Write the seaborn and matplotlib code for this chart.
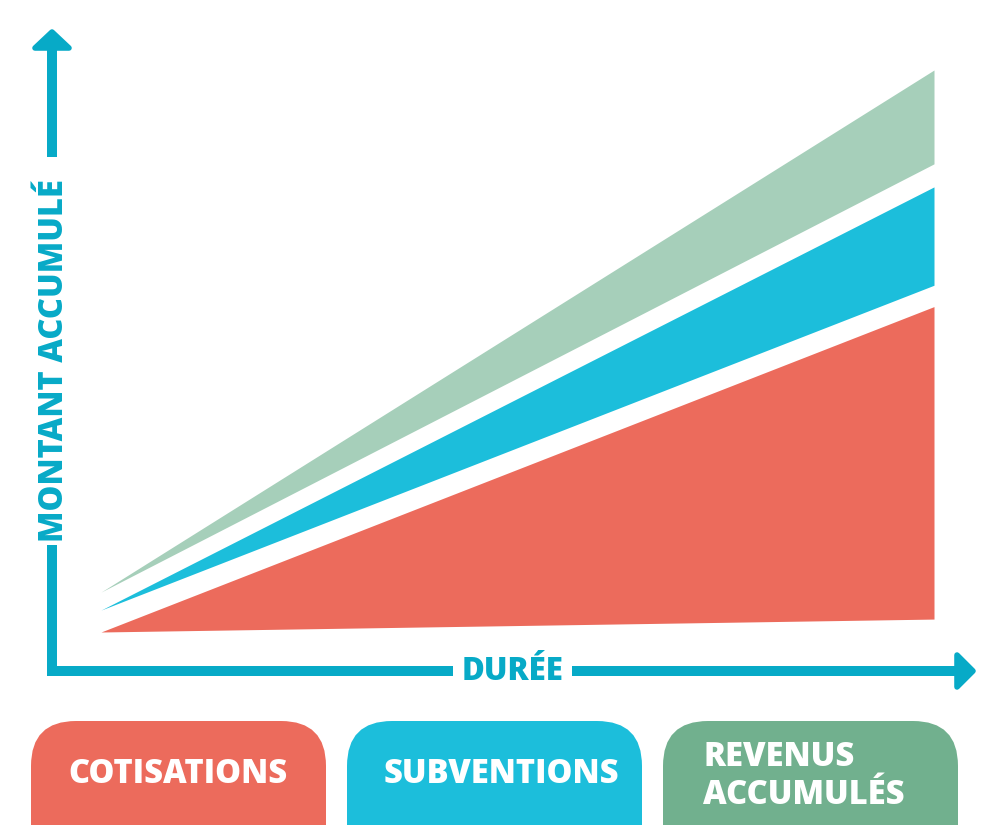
import numpy as np
import pandas as pd
import seaborn as sns
import matplotlib
matplotlib.use("Agg")
import matplotlib.pyplot as plt
from matplotlib.patches import FancyBboxPatch, Polygon, Rectangle

# ---- data (conceptual: amount accumulated over time) ----
duree = [0, 10]
cotisations_bas = [0.0, 2.3]
cotisations_haut = [0.0, 57.9]
subventions_bas = [3.9, 61.7]
subventions_haut = [3.9, 79.2]
revenus_bas = [7.1, 83.3]
revenus_haut = [7.1, 100.0]

legend_labels = ["COTISATIONS", "SUBVENTIONS", "REVENUS\nACCUMULÉS"]
x_label = "DURÉE"
y_label = "MONTANT ACCUMULÉ"

# ---- colours ----
C_RED = "#EC6B5C"
C_BLUE = "#1CBEDB"
C_GREEN_LIGHT = "#A6CFBA"
C_GREEN = "#71B08E"
C_AXIS = "#07AAC7"

sns.set_theme(style="white")
plt.rcParams['font.family'] = ['Open Sans', 'DejaVu Sans']
FW = 800

fig = plt.figure(figsize=(10, 8.25), dpi=100)

# main axes for the bands
ax = fig.add_axes([101 / 1000, (825 - 632) / 825, 833 / 1000, 562 / 825])
df = pd.DataFrame({"duree": duree,
                   "c_lo": cotisations_bas, "c_hi": cotisations_haut,
                   "s_lo": subventions_bas, "s_hi": subventions_haut,
                   "r_lo": revenus_bas, "r_hi": revenus_haut})
ax.fill_between(df["duree"], df["c_lo"], df["c_hi"], color=C_RED, linewidth=0)
ax.fill_between(df["duree"], df["s_lo"], df["s_hi"], color=C_BLUE, linewidth=0)
ax.fill_between(df["duree"], df["r_lo"], df["r_hi"], color=C_GREEN_LIGHT, linewidth=0)
ax.set_xlim(0, 10)
ax.set_ylim(0, 100)
ax.axis("off")

# decoration layer in pixel coordinates
deco = fig.add_axes([0, 0, 1, 1], zorder=-1)
deco.set_xlim(0, 1000)
deco.set_ylim(825, 0)
deco.axis("off")

W = 10.5
# vertical axis arrow shaft segments
deco.add_patch(Rectangle((52 - W / 2, 45), W, 157 - 45, color=C_AXIS, lw=0))
deco.add_patch(Rectangle((52 - W / 2, 545), W, 676 - 545, color=C_AXIS, lw=0))
deco.add_patch(Polygon([[52, 32], [35, 48], [69, 48]], closed=True,
                       facecolor=C_AXIS, edgecolor=C_AXIS, lw=4, joinstyle="round"))
# horizontal axis arrow
deco.add_patch(Rectangle((46.75, 671 - W / 2), 453 - 46.75, W, color=C_AXIS, lw=0))
deco.add_patch(Rectangle((572, 671 - W / 2), 958 - 572, W, color=C_AXIS, lw=0))
deco.add_patch(Polygon([[973, 671], [957, 655], [957, 687]], closed=True,
                       facecolor=C_AXIS, edgecolor=C_AXIS, lw=4, joinstyle="round"))

deco.text(513, 672, x_label, color=C_AXIS, fontsize=22.5, fontweight=FW,
          ha="center", va="center")
deco.text(54, 361, y_label, color=C_AXIS, fontsize=23.5, fontweight=FW,
          ha="center", va="center", rotation=90)

# legend tabs
tabs = [(31, C_RED), (347, C_BLUE), (663, C_GREEN)]
for (x0, col), lab in zip(tabs, legend_labels):
    deco.add_patch(FancyBboxPatch((x0, 721), 295, 200,
                                  boxstyle="round,pad=0,rounding_size=45",
                                  facecolor=col, edgecolor="none"))
deco.text(178, 774, legend_labels[0], color="white", fontsize=23.5, fontweight=FW,
          ha="center", va="center")
deco.text(501, 774, legend_labels[1], color="white", fontsize=23.5, fontweight=FW,
          ha="center", va="center")
deco.text(703, 776, legend_labels[2], color="white", fontsize=23.5, fontweight=FW,
          ha="left", va="center", linespacing=1.15)

fig.savefig("out.png", dpi=100)
